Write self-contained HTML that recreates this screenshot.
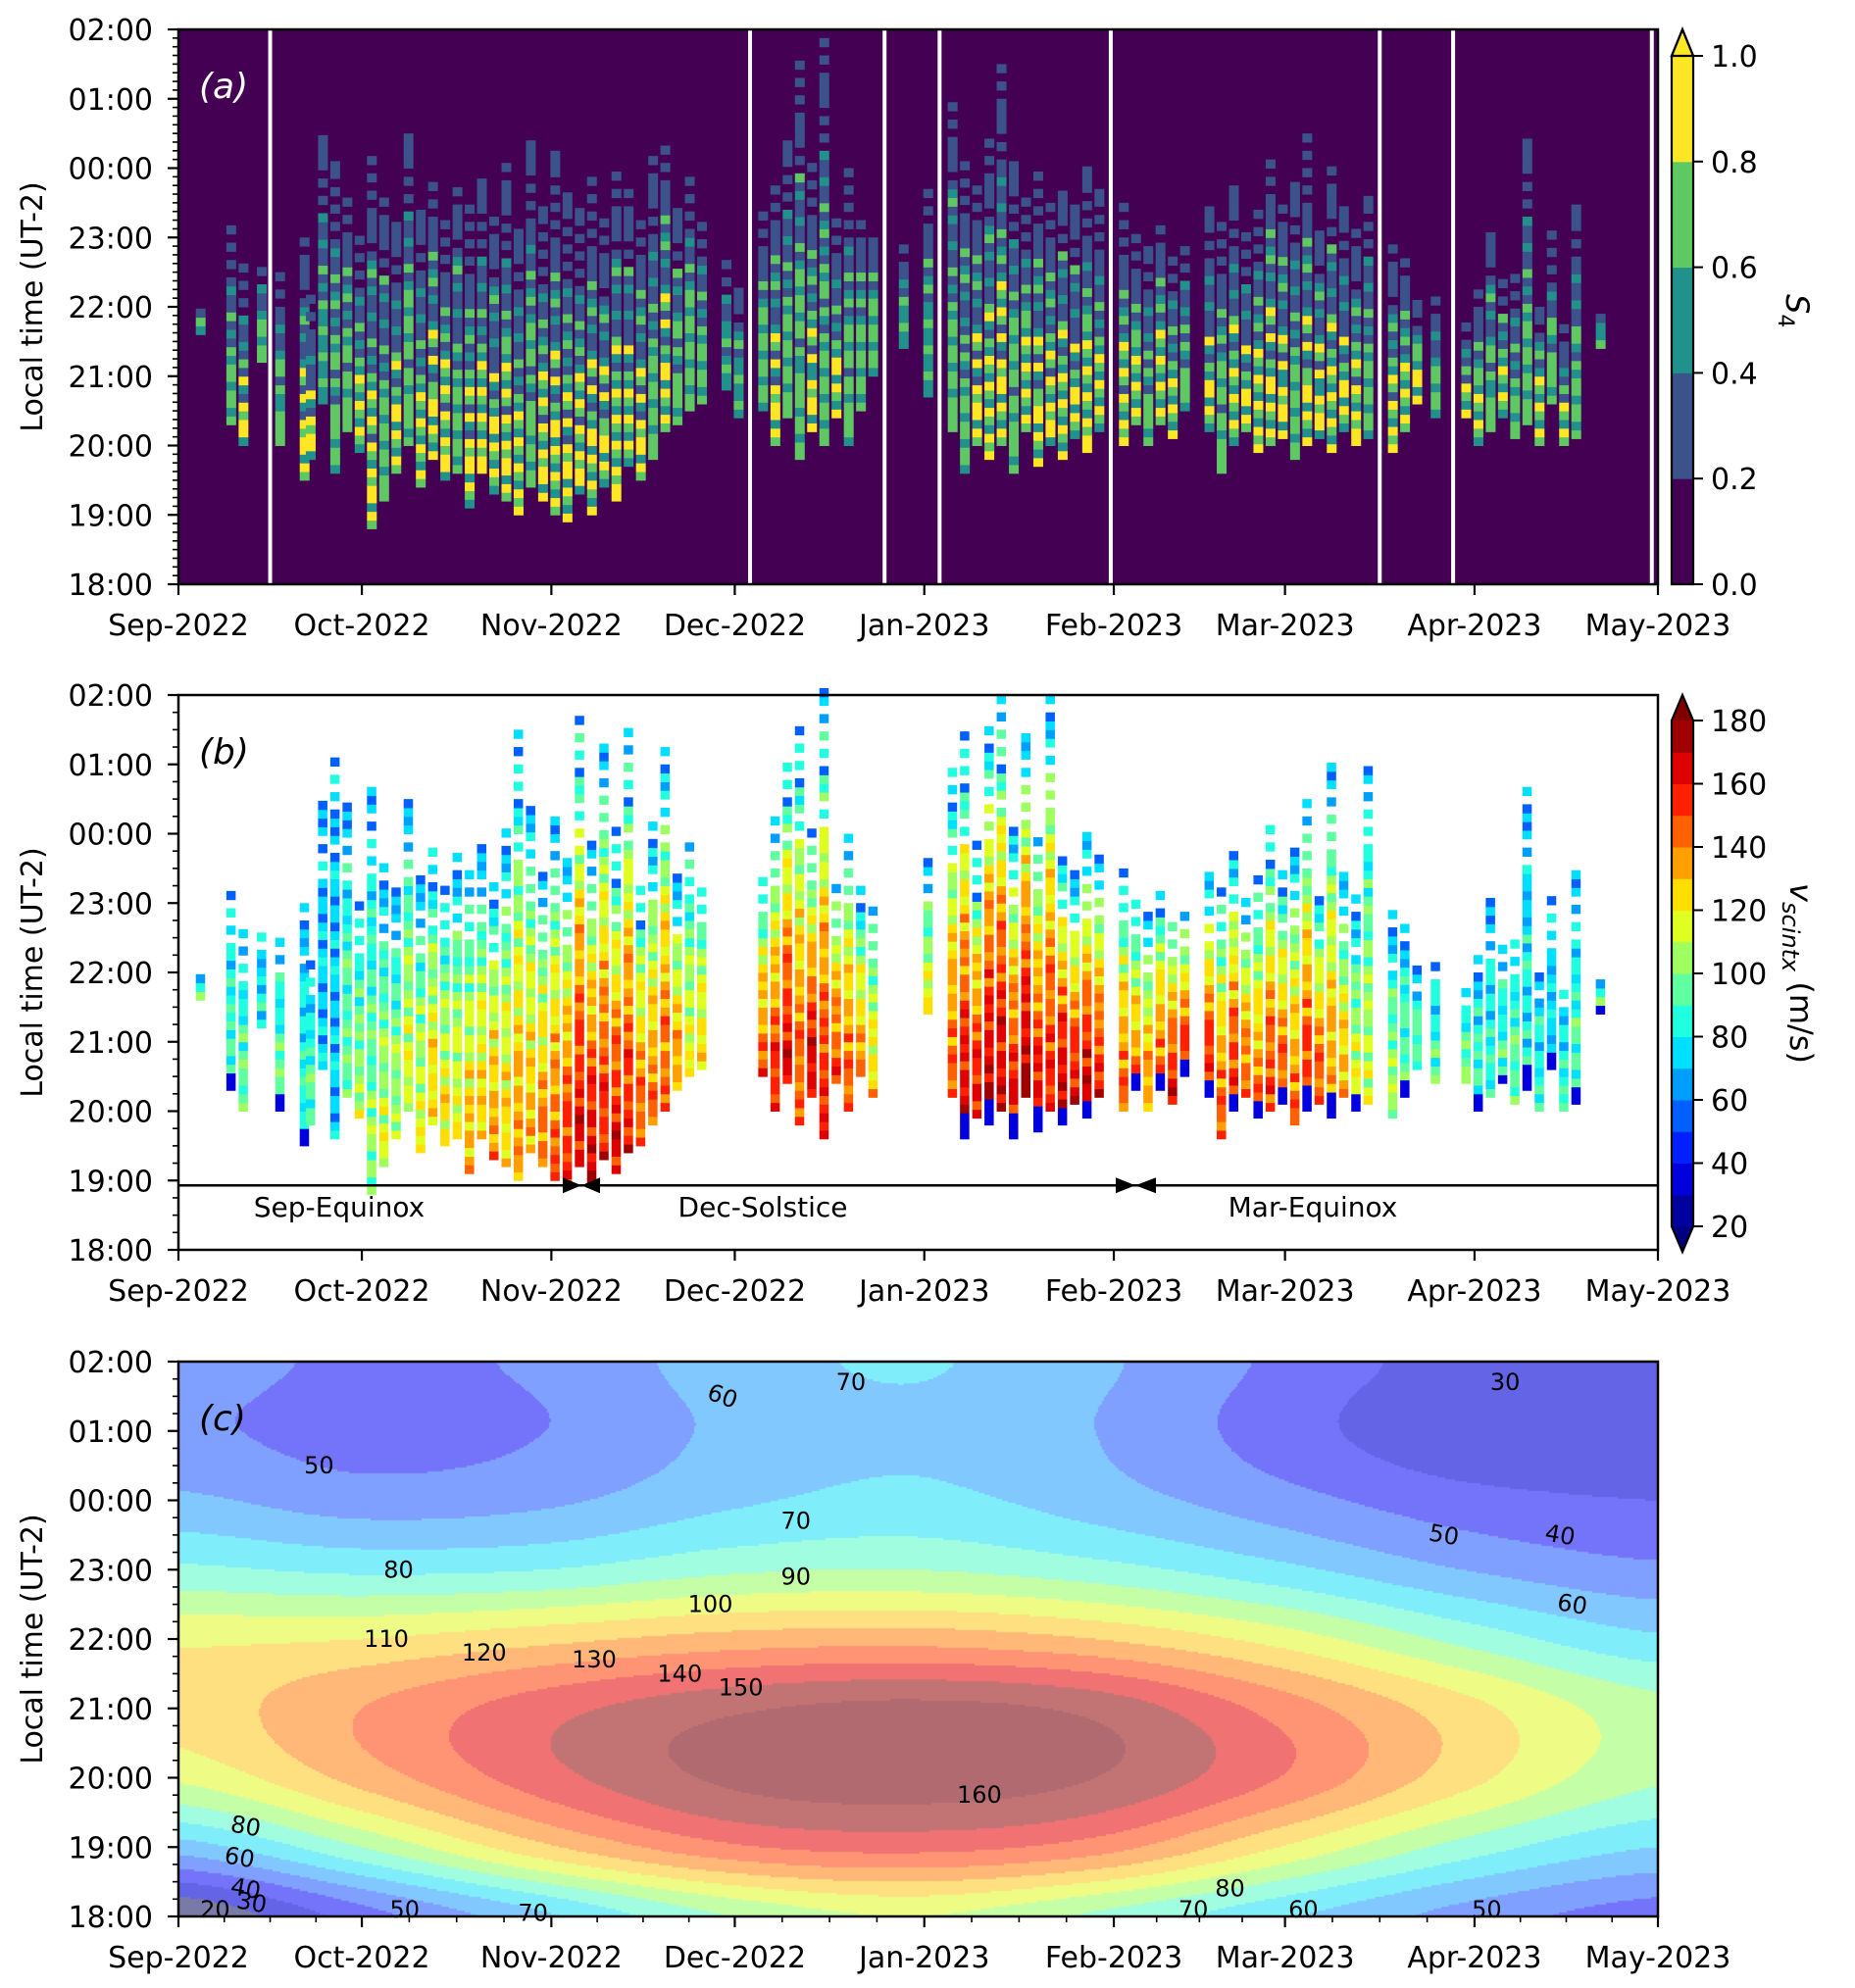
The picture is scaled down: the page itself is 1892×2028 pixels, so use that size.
<!DOCTYPE html>
<html><head><meta charset="utf-8">
<style>
html,body{margin:0;padding:0;background:#fff;}
#wrap{position:relative;width:1892px;height:2028px;overflow:hidden;font-family:"DejaVu Sans","Liberation Sans",sans-serif;}
#cvs{position:absolute;left:182px;top:1389px;}
#svg{position:absolute;left:0;top:0;}
</style></head>
<body>
<div id="wrap">
<canvas id="cvs" width="1509" height="566"></canvas>
<svg id="svg" width="1892" height="2028" xmlns="http://www.w3.org/2000/svg"></svg>
</div>
<script>
// ---------- data ----------
const monthLabelsA = ["Sep-2022","Oct-2022","Nov-2022","Dec-2022","Jan-2023","Feb-2023","Mar-2023","Apr-2023","May-2023"];
const monthDays = [0,30,61,91,122,153,181,212,242];
const hourLabels = ["18:00","19:00","20:00","21:00","22:00","23:00","00:00","01:00","02:00"];
const gapDays = [15,93.5,115.5,124.5,152.5,196.5,208.5,241];

const s4Day   = [3,8,10,13,16,20,21,23,25,27,29,31,33,35,37,39,41,43,45,47,49,51,53,55,57,59,61,63,65,67,69,71,73,75,77,79,81,83,85,89,91,95,97,99,101,103,105,107,109,111,113,118,122,126,128,130,132,134,136,138,140,142,144,146,148,150,154,156,158,160,162,164,168,170,172,174,176,178,180,182,184,186,188,190,192,194,198,200,202,205,210,212,214,216,218,220,222,224,226,228,232];
const s4Start = [3.6,2.3,2.0,3.2,2.0,1.5,1.8,2.6,1.6,2.2,1.9,0.8,1.2,1.6,2.0,1.4,1.8,1.5,1.6,1.1,1.6,1.3,1.2,1.0,1.4,1.2,1.0,0.9,1.3,1.0,1.4,1.2,1.7,1.5,1.8,2.2,2.3,2.5,2.6,2.8,2.4,2.5,2.0,2.4,1.8,2.2,2.0,2.4,2.0,2.5,3.0,3.4,2.7,2.2,1.6,2.0,1.8,2.0,1.6,2.2,1.7,2.0,1.8,2.1,1.9,2.2,2.0,2.3,2.0,2.3,2.1,2.5,2.2,1.6,2.0,2.2,1.9,2.0,2.1,1.8,2.0,2.1,1.9,2.2,2.0,2.1,1.9,2.2,2.6,2.4,2.4,2.0,2.2,2.4,2.1,2.3,2.0,2.6,2.0,2.1,3.4];
const s4End   = [3.9,5.2,4.6,4.6,4.5,5.0,4.2,6.4,6.0,5.5,5.0,6.3,5.6,5.2,6.6,5.4,5.8,5.3,5.8,5.4,5.8,5.4,6.0,5.2,6.5,5.4,6.2,5.6,5.4,5.8,5.2,6.0,5.6,5.3,6.1,6.4,5.4,6.0,5.3,4.6,4.2,5.4,5.8,6.4,7.5,6.0,7.8,5.4,6.0,5.2,5.0,4.8,5.6,6.9,6.0,5.8,6.4,7.4,6.2,5.6,6.0,5.5,5.8,5.4,6.0,5.6,5.4,5.0,4.8,5.2,4.8,5.0,5.4,5.2,5.8,5.0,5.4,6.2,5.6,5.8,6.4,5.2,6.0,5.4,5.1,5.6,4.8,4.6,4.0,4.2,3.8,4.2,5.0,4.4,4.6,6.4,4.0,5.0,3.8,5.4,4.0];
const s4Peak  = [2,3,4,3,3,4,4,2,3,3,4,4,3,4,3,4,4,4,3,4,4,4,4,4,3,4,4,4,4,4,4,4,4,4,3,4,3,3,3,2,2,3,4,3,3,4,3,4,3,3,3,2,2,3,3,4,4,4,3,4,4,4,4,4,4,4,4,4,3,4,4,3,4,3,4,4,4,4,4,3,4,4,4,4,4,3,4,4,4,3,4,4,3,4,3,3,4,3,4,3,3];

const vDay   = [3,8,10,13,16,20,21,23,25,27,29,31,33,35,37,39,41,43,45,47,49,51,53,55,57,59,61,63,65,67,69,71,73,75,77,79,81,83,85,95,97,99,101,103,105,107,109,111,113,122,126,128,130,132,134,136,138,140,142,144,146,148,150,154,156,158,160,162,164,168,170,172,174,176,178,180,182,184,186,188,190,192,194,198,200,202,205,210,212,214,216,218,220,222,224,226,228,232];
const vStart = [3.6,2.3,2.0,3.2,2.0,1.5,1.8,2.6,1.6,2.2,1.9,0.8,1.2,1.6,2.0,1.4,1.8,1.5,1.6,1.1,1.6,1.3,1.2,1.0,1.4,1.2,1.0,0.9,1.2,0.9,1.3,1.1,1.4,1.5,1.8,2.0,2.3,2.5,2.6,2.5,2.0,2.4,1.8,2.2,1.6,2.4,2.0,2.5,2.2,3.4,2.2,1.6,1.9,1.8,2.0,1.6,2.2,1.7,2.0,1.8,2.1,1.9,2.2,2.0,2.3,2.0,2.3,2.1,2.5,2.2,1.6,2.0,2.2,1.9,2.0,2.1,1.8,2.0,2.1,1.9,2.2,2.0,2.1,1.9,2.2,2.6,2.4,2.4,2.0,2.2,2.4,2.1,2.3,2.0,2.6,2.0,2.1,3.4];
const vEnd   = [3.9,5.2,4.6,4.6,4.5,5.0,4.2,6.4,7.2,6.5,5.0,6.6,5.6,5.2,6.6,5.4,5.8,5.3,5.8,5.4,5.8,5.4,6.0,7.4,6.5,5.4,6.2,5.6,7.8,5.8,7.2,6.0,7.5,5.3,6.1,7.3,5.4,6.0,5.3,5.4,6.2,7.1,7.6,6.0,8.0,5.4,6.0,5.2,5.0,5.6,6.9,7.4,5.8,7.6,8.0,6.2,7.4,6.0,7.9,5.8,5.4,6.0,5.6,5.4,5.0,4.8,5.2,4.8,5.0,5.4,5.2,5.8,5.0,5.4,6.2,5.6,5.8,6.4,5.2,7.0,5.4,5.1,6.9,4.8,4.6,4.0,4.2,3.8,4.2,5.0,4.4,4.6,6.8,4.0,5.0,3.8,5.4,4.0];
const vPeak  = [95,95,100,85,100,90,95,70,75,100,110,105,115,110,120,120,130,125,120,135,130,140,130,140,135,145,150,160,165,170,160,165,160,150,145,150,140,120,130,150,160,165,150,170,160,155,150,140,130,120,150,170,165,175,170,165,175,170,160,175,165,170,160,150,145,140,150,165,160,165,150,160,150,145,155,150,145,160,150,140,135,120,115,110,100,100,95,100,95,90,95,100,85,90,80,90,95,95];

// panel c coarse grid (rows: 18:00..02:00, cols: days)
const cGridDays = [0,30,60,90,120,150,180,210,241];
const cRow18 = [20,45,68,90,100,88,72,56,45];
const cRow19 = [65,90,118,138,143,135,110,86,70];
const cRow20 = [102,124,146,162,166,160,140,114,92];
const cRow21 = [114,130,146,158,163,157,136,114,94];
const cRow22 = [108,110,117,124,126,120,106,87,72];
const cRow23 = [82,78,80,88,90,84,73,60,52];
const cRow00 = [62,55,58,68,73,65,54,44,40];
const cRow01 = [52,46,50,62,68,60,45,32,31];
const cRow02 = [55,48,52,65,71,62,48,36,38];
const cLevels = [30,40,50,60,70,80,90,100,110,120,130,140,150,160];
const cColors = ['#7a7aa8','#6464e6','#7474fa','#80a0ff','#80c8ff','#80eefa','#a0fde0','#c4ffa8','#eefc86','#ffe080','#ffb878','#ff9474','#f07272','#c27474','#b06a70'];
const cLabelText = ["60","70","30","50","70","80","90","100","50","40","60","110","120","130","140","150","160","80","60","40","30","20","50","70","70","80","60","50"];
const cLabelDay  = [89,110,217,23,101,36,101,87,207,226,228,34,50,68,82,92,131,11,10,11,12,6,37,58,166,172,184,214];
const cLabelHr   = [7.5,7.7,7.7,6.5,5.7,5.0,4.9,4.5,5.5,5.5,4.5,4.0,3.8,3.7,3.5,3.3,1.75,1.3,0.85,0.4,0.2,0.1,0.1,0.05,0.1,0.4,0.1,0.1];
const cLabelRot  = [20,0,0,0,0,0,0,0,10,10,10,0,0,0,0,0,0,10,10,10,10,0,0,0,0,0,0,0];

// ---------- geometry ----------
const X0=182, X1=1691, H=566, NDAYS=242;
const tops=[30,709,1389];
const xd = d => X0 + d/NDAYS*(X1-X0);
const yh = (p,h) => tops[p] + H - h/8*H;
const NS='http://www.w3.org/2000/svg';
const svg=document.getElementById('svg');
function mk(tag, attrs, parent){ const e=document.createElementNS(NS,tag); for(const k in attrs) e.setAttribute(k,attrs[k]); (parent||svg).appendChild(e); return e; }
function grp(name){ const g=mk('g',{});   return g; }
function jet(t){ const c=v=>Math.round(255*Math.max(0,Math.min(1,v))); return `rgb(${c(1.5-Math.abs(4*t-3))},${c(1.5-Math.abs(4*t-2))},${c(1.5-Math.abs(4*t-1))})`; }
const viridis=['#440154','#3b528b','#21918c','#5ec962','#fde725'];
function vColor(v){ let k=Math.floor((v-20)/10); k=Math.max(0,Math.min(15,k)); return jet((k+0.5)/16); }

// ---------- panel a ----------
const ga=grp('panel-a');
let r=mk('rect',{x:X0,y:tops[0],width:X1-X0,height:H,fill:'#440154'},ga);
 
const BIN=0.125;
s4Day.forEach((d,i)=>{
  const st=s4Start[i], en=s4End[i], pk=s4Peak[i];
  for(let t=st, b=0; t<en; t+=BIN, b++){
    const f=(t-st)/(en-st);
    const m=(b*7+d*3)%11;
    let lv;
    if(f>0.72){ if(m%3===0) continue; lv=1; }
    else if(f>0.45) lv=(m<6)?1:(m<9?2:3);
    else if(f<0.22) lv=(m<5)?pk:(m<8?3:2);
    else lv=(m<3)?pk:(m<6?3:(m<9?2:1));
    const c=mk('rect',{x:xd(d)-1,y:yh(0,t+BIN),width:10,height:BIN/8*H+0.5,fill:viridis[lv]},ga);
    
    
  }
});
gapDays.forEach(d=>{
  const l=mk('rect',{x:xd(d)-2,y:tops[0],width:4,height:H,fill:'#fff'},ga);
  
  
});
let t=mk('text',{x:203,y:100,'font-size':36,'font-style':'italic',fill:'#fff'},ga); t.textContent='(a)';
 

// ---------- panel b ----------
const gb=grp('panel-b');
vDay.forEach((d,i)=>{
  const st=vStart[i], en=vEnd[i], pk=vPeak[i];
  for(let tt=st, b=0; tt<en; tt+=BIN, b++){
    const f=(tt-st)/(en-st);
    const m=(b*7+d*3)%11;
    if(f>0.7 && m%3===0) continue;
    let v=pk-(pk-70)*Math.pow(f,1.5)-(m<3?15:0)+(m>8?10:0);
    if(f>0.8 && m===4) v=50;
    if(f<0.06 && (d%4)===0) v=35;
    const c=mk('rect',{x:xd(d)-1,y:yh(1,tt+BIN),width:9.5,height:BIN/8*H+0.5,fill:vColor(v)},gb);
    
    
  }
});
// season annotation
const yAnn=yh(1,0.93);
let ln=mk('line',{x1:X0,y1:yAnn,x2:X1,y2:yAnn,stroke:'#000','stroke-width':2.5},gb);
 
[[574,593,612],[1138,1158,1179]].forEach(a=>{
  const p=mk('path',{d:`M${a[0]},${yAnn-8}L${a[1]},${yAnn}L${a[0]},${yAnn+8}Z M${a[2]},${yAnn-8}L${a[1]},${yAnn}L${a[2]},${yAnn+8}Z`,fill:'#000'},gb);
  
  
});
[['Sep-Equinox',346],['Dec-Solstice',778],['Mar-Equinox',1339]].forEach(s=>{
  const e=mk('text',{x:s[1],y:1241,'font-size':28,'text-anchor':'middle',fill:'#000'},gb); e.textContent=s[0];
  
  
});
t=mk('text',{x:203,y:779,'font-size':36,'font-style':'italic',fill:'#000'},gb); t.textContent='(b)';
 

// ---------- panel c (canvas fill) ----------
const rows=[cRow18,cRow19,cRow20,cRow21,cRow22,cRow23,cRow00,cRow01,cRow02];
function cr(p0,p1,p2,p3,u){ return 0.5*((2*p1)+(-p0+p2)*u+(2*p0-5*p1+4*p2-p3)*u*u+(-p0+3*p1-3*p2+p3)*u*u*u); }
function rowAt(ri,day){
  const row=rows[Math.max(0,Math.min(8,ri))];
  let ci=0; while(ci<cGridDays.length-2 && day>cGridDays[ci+1]) ci++;
  const u=Math.max(0,Math.min(1,(day-cGridDays[ci])/(cGridDays[ci+1]-cGridDays[ci])));
  const g=k=>row[Math.max(0,Math.min(8,k))];
  return cr(g(ci-1),g(ci),g(ci+1),g(ci+2),u);
}
function field(day,hr){
  let ri=Math.min(7,Math.floor(hr)); const w=Math.max(0,Math.min(1,hr-ri));
  return cr(rowAt(ri-1,day),rowAt(ri,day),rowAt(ri+1,day),rowAt(ri+2,day),w);
}
const ctx=document.getElementById('cvs').getContext('2d');
const STEP=2;
for(let px=0;px<1509;px+=STEP){
  for(let py=0;py<566;py+=STEP){
    const v=field((px+STEP/2)/1509*NDAYS, 8-(py+STEP/2)/566*8);
    let k=0; while(k<cLevels.length && v>=cLevels[k]) k++;
    ctx.fillStyle=cColors[k]; ctx.fillRect(px,py,STEP,STEP);
  }
}
const gc=grp('panel-c');
cLabelText.forEach((s,i)=>{
  const x=xd(cLabelDay[i]), y=yh(2,cLabelHr[i]);
  const e=mk('text',{x:x,y:y+8,'font-size':24,'text-anchor':'middle',fill:'#000',transform:`rotate(${cLabelRot[i]} ${x} ${y})`},gc);
  e.textContent=s;
  
  
});
t=mk('text',{x:203,y:1459,'font-size':36,'font-style':'italic',fill:'#000'},gc); t.textContent='(c)';
 

// ---------- axes ----------
[0,1,2].forEach(p=>{
  const g=grp('panel-'+'abc'[p]+'-axes');
  const top=tops[p], bot=top+H;
  const fr=mk('rect',{x:X0,y:top,width:X1-X0,height:H,fill:'none',stroke:'#000','stroke-width':2.5},g);
   
  const minorN = p===0?8:4;
  for(let h=0;h<=8;h++){
    const y=yh(p,h);
    mk('line',{x1:X0-11,y1:y,x2:X0,y2:y,stroke:'#000','stroke-width':2.2},g);
    const e=mk('text',{x:156,y:y+11,'font-size':30,'text-anchor':'end',fill:'#000'},g); e.textContent=hourLabels[h];
    
    
    if(h<8) for(let m=1;m<minorN;m++){ const ym=yh(p,h+m/minorN); mk('line',{x1:X0-6,y1:ym,x2:X0,y2:ym,stroke:'#000','stroke-width':1.6},g); }
  }
  monthDays.forEach((d,i)=>{
    const x=xd(d);
    mk('line',{x1:x,y1:bot,x2:x,y2:bot+11,stroke:'#000','stroke-width':2.2},g);
    const e=mk('text',{x:x,y:bot+52,'font-size':30,'text-anchor':'middle',fill:'#000'},g); e.textContent=monthLabelsA[i];
    
    
    if(p===2 && i<8) for(let m=1;m<4;m++){ const xm=xd(d+(monthDays[i+1]-d)*m/4); mk('line',{x1:xm,y1:bot,x2:xm,y2:bot+6,stroke:'#000','stroke-width':1.6},g); }
  });
  const yl=mk('text',{x:0,y:0,'font-size':30,'text-anchor':'middle',fill:'#000',transform:`translate(43 ${top+H/2}) rotate(-90)`},g);
  yl.textContent='Local time (UT-2)';
  
  
});

// ---------- colorbar a ----------
const cba=grp('colorbar-s4');
const ca0=57, ca1=596, cx0=1705, cx1=1727;
for(let k=0;k<5;k++){
  const h=(ca1-ca0)/5;
  mk('rect',{x:cx0,y:ca1-(k+1)*h,width:cx1-cx0,height:h+0.5,fill:viridis[k]},cba);
}
mk('path',{d:`M${cx0},${ca0}L${(cx0+cx1)/2},30L${cx1},${ca0}Z`,fill:viridis[4],stroke:'#000','stroke-width':2.2},cba);
mk('path',{d:`M${cx0},${ca0}L${(cx0+cx1)/2},30L${cx1},${ca0}L${cx1},${ca1}L${cx0},${ca1}Z`,fill:'none',stroke:'#000','stroke-width':2.2},cba);
['0.0','0.2','0.4','0.6','0.8','1.0'].forEach((s,k)=>{
  const y=ca1-k*(ca1-ca0)/5;
  mk('line',{x1:cx1,y1:y,x2:cx1+10,y2:y,stroke:'#000','stroke-width':2},cba);
  const e=mk('text',{x:1745,y:y+11,'font-size':30,fill:'#000'},cba); e.textContent=s;
  
  
});
let sl=mk('text',{x:0,y:0,'font-size':32,'font-style':'italic',fill:'#000',transform:'translate(1822 300) rotate(90)'},cba);
sl.innerHTML='S<tspan font-size="22" dy="8" font-style="normal">4</tspan>';
 

// ---------- colorbar b ----------
const cbb=grp('colorbar-vscint');
const cb0=735, cb1=1251;
for(let k=0;k<16;k++){
  const h=(cb1-cb0)/16;
  mk('rect',{x:cx0,y:cb1-(k+1)*h,width:cx1-cx0,height:h+0.5,fill:jet((k+0.5)/16)},cbb);
}
mk('path',{d:`M${cx0},${cb0}L${(cx0+cx1)/2},709L${cx1},${cb0}Z`,fill:'#800000'},cbb);
mk('path',{d:`M${cx0},${cb1}L${(cx0+cx1)/2},1277L${cx1},${cb1}Z`,fill:'#000080'},cbb);
mk('path',{d:`M${cx0},${cb0}L${(cx0+cx1)/2},709L${cx1},${cb0}L${cx1},${cb1}L${(cx0+cx1)/2},1277L${cx0},${cb1}Z`,fill:'none',stroke:'#000','stroke-width':2.2},cbb);
['20','40','60','80','100','120','140','160','180'].forEach((s,k)=>{
  const y=cb1-k*(cb1-cb0)/8;
  mk('line',{x1:cx1,y1:y,x2:cx1+10,y2:y,stroke:'#000','stroke-width':2},cbb);
  const e=mk('text',{x:1745,y:y+11,'font-size':30,fill:'#000'},cbb); e.textContent=s;
  
  
});
let vl=mk('text',{x:0,y:0,'font-size':32,'text-anchor':'middle',fill:'#000',transform:'translate(1826 993) rotate(90)'},cbb);
vl.innerHTML='<tspan font-style="italic">v</tspan><tspan font-style="italic" font-size="24" dy="8">scintx</tspan><tspan dy="-8"> (m/s)</tspan>';
 
</script>
</body></html>
